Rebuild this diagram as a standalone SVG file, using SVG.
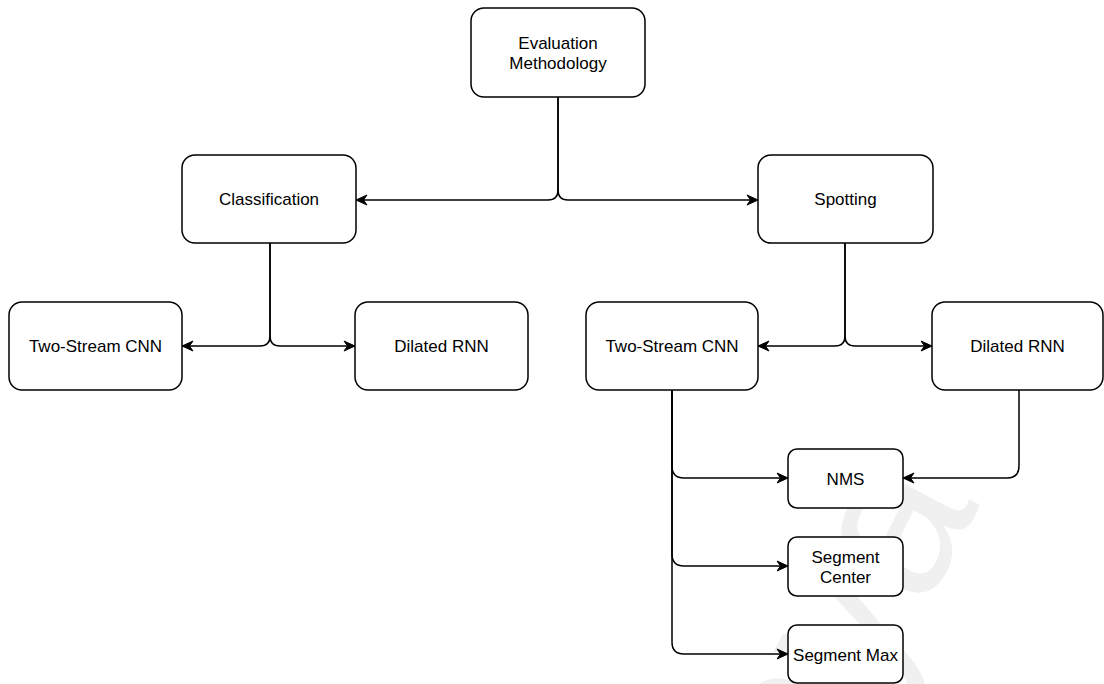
<svg xmlns="http://www.w3.org/2000/svg" width="1104" height="684" viewBox="0 0 1104 684">
  <style>
    .box { fill: #ffffff; stroke: #000000; stroke-width: 1.5; }
    .lbl { font-family: "Liberation Sans", Arial, Helvetica, sans-serif; font-size: 17px; fill: #000000; text-anchor: middle; }
    .edge { fill: none; stroke: #000000; stroke-width: 1.5; marker-end: url(#arrow); }
    .mark { font-family: "Liberation Sans", Arial, sans-serif; font-size: 215px; fill: #f0f0f0; }
  </style>
  <defs>
    <marker id="arrow" markerUnits="userSpaceOnUse" markerWidth="13" markerHeight="13" viewBox="0 0 13 13" refX="12" refY="6.5" orient="auto">
      <path d="M1,1.5 L12,6.5 L1,11.5 L4.5,6.5 Z" fill="#000000" stroke="#000000" stroke-width="1"/>
    </marker>
  </defs>

  <rect width="1104" height="684" fill="#ffffff"/>

  <!-- faint background watermark -->
  <text class="mark" transform="translate(980,505) rotate(-62)" text-anchor="end">Malaya</text>

  <!-- connectors -->
  <g id="connectors">
    <path class="edge" d="M558,97 V190 Q558,200 548,200 H356"/>
    <path class="edge" d="M558,97 V190 Q558,200 568,200 H758"/>
    <path class="edge" d="M270,243 V336 Q270,346 260,346 H182"/>
    <path class="edge" d="M270,243 V336 Q270,346 280,346 H355"/>
    <path class="edge" d="M845,243 V336 Q845,346 835,346 H758"/>
    <path class="edge" d="M845,243 V336 Q845,346 855,346 H932"/>
    <path class="edge" d="M672,390 V466 Q672,478 684,478 H788"/>
    <path class="edge" d="M672,390 V554 Q672,566 684,566 H788"/>
    <path class="edge" d="M672,390 V642 Q672,654 684,654 H788"/>
    <path class="edge" d="M1019,390 V466 Q1019,478 1007,478 H903"/>
  </g>

  <g id="evaluation">
    <rect class="box" x="471" y="8" width="174" height="89" rx="13"/>
    <text class="lbl" x="558" y="48.5">Evaluation</text>
    <text class="lbl" x="558" y="68.5">Methodology</text>
  </g>

  <g id="classification">
    <rect class="box" x="182" y="155" width="174" height="88" rx="13"/>
    <text class="lbl" x="269" y="205">Classification</text>
  </g>

  <g id="spotting">
    <rect class="box" x="758" y="155" width="175" height="88" rx="13"/>
    <text class="lbl" x="845.5" y="205">Spotting</text>
  </g>

  <g id="cls-two-stream">
    <rect class="box" x="9" y="302" width="173" height="88" rx="13"/>
    <text class="lbl" x="95.5" y="352">Two-Stream CNN</text>
  </g>

  <g id="cls-dilated">
    <rect class="box" x="355" y="302" width="173" height="88" rx="13"/>
    <text class="lbl" x="441.5" y="352">Dilated RNN</text>
  </g>

  <g id="spot-two-stream">
    <rect class="box" x="586" y="302" width="172" height="88" rx="13"/>
    <text class="lbl" x="672" y="352">Two-Stream CNN</text>
  </g>

  <g id="spot-dilated">
    <rect class="box" x="932" y="302" width="171" height="88" rx="13"/>
    <text class="lbl" x="1017.5" y="352">Dilated RNN</text>
  </g>

  <g id="nms">
    <rect class="box" x="788" y="449" width="115" height="59" rx="9"/>
    <text class="lbl" x="845.5" y="484.5">NMS</text>
  </g>

  <g id="segment-center">
    <rect class="box" x="788" y="537" width="115" height="59" rx="9"/>
    <text class="lbl" x="845.5" y="562.5">Segment</text>
    <text class="lbl" x="845.5" y="582.5">Center</text>
  </g>

  <g id="segment-max">
    <rect class="box" x="788" y="625" width="115" height="58" rx="9"/>
    <text class="lbl" x="845.5" y="660.5">Segment Max</text>
  </g>
</svg>
